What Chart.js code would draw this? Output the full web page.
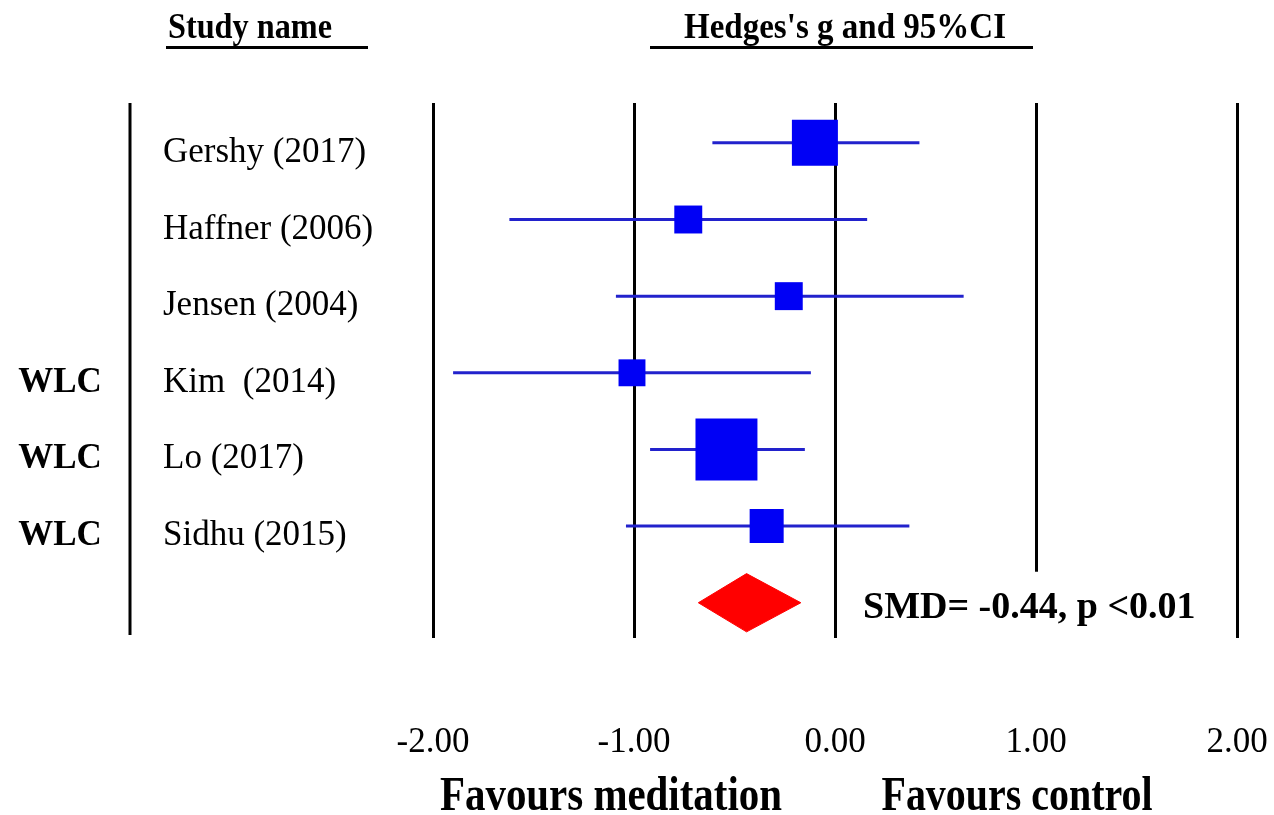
<!DOCTYPE html>
<html>
<head>
<meta charset="utf-8">
<title>Forest plot</title>
<script src="https://cdn.jsdelivr.net/npm/chart.js@4.4.1/dist/chart.umd.min.js"></script>
<style>
  body { margin: 0; background: #fff; }
  canvas { display: block; }
</style>
</head>
<body>
<canvas id="forest" width="1274" height="815"></canvas>
<script>
const studies = ["Gershy (2017)", "Haffner (2006)", "Jensen (2004)", "Kim  (2014)", "Lo (2017)", "Sidhu (2015)"];
const control = ["", "", "", "WLC", "WLC", "WLC"];
const hedgesG = [-0.10, -0.73, -0.23, -1.01, -0.54, -0.34];
const lowerCI = [-0.61, -1.62, -1.09, -1.90, -0.92, -1.04];
const upperCI = [0.42, 0.16, 0.64, -0.12, -0.15, 0.37];
const weights = [22.5, 8.3, 8.3, 7.7, 40.8, 12.3];   // relative weight, %
const pooledSMD = -0.44;
const pooledCI = [-0.68, -0.17];
const pooledP = "p <0.01";
const xTicks = [-2, -1, 0, 1, 2];

const serif = "'Liberation Serif', 'Times New Roman', serif";
const blue = "#0000f5";
const ciBlue = "#2222cc";
const summaryRow = studies.length + 1;
const diamondHalf = 0.38;

// squares first so they sit above the CI lines
const datasets = [{
  data: hedgesG.map((g, i) => ({x: g, y: i + 1})),
  pointStyle: "rect",
  pointRadius: weights.map(w => 9.7 * Math.sqrt(w) / Math.SQRT2),
  pointBackgroundColor: blue,
  pointBorderWidth: 0,
  showLine: false
}];

studies.forEach((s, i) => {
  datasets.push({
    data: [{x: lowerCI[i], y: i + 1}, {x: upperCI[i], y: i + 1}],
    showLine: true,
    borderColor: ciBlue,
    borderWidth: 3,
    pointRadius: 0
  });
});

// pooled diamond: upper half filled down to lower half
datasets.push({
  data: [{x: pooledCI[0], y: summaryRow}, {x: pooledSMD, y: summaryRow - diamondHalf}, {x: pooledCI[1], y: summaryRow}],
  showLine: true, tension: 0, borderColor: "#f00", borderWidth: 1, pointRadius: 0,
  backgroundColor: "#f00", fill: "+1"
});
datasets.push({
  data: [{x: pooledCI[0], y: summaryRow}, {x: pooledSMD, y: summaryRow + diamondHalf}, {x: pooledCI[1], y: summaryRow}],
  showLine: true, tension: 0, borderColor: "#f00", borderWidth: 1, pointRadius: 0
});

const labels = {
  id: "labels",
  afterDraw(chart) {
    const c = chart.ctx;
    const y = chart.scales.y;
    const area = chart.chartArea;
    c.save();
    c.fillStyle = "#000";
    c.strokeStyle = "#000";

    // divider between comparison and study columns
    c.lineWidth = 3;
    c.beginPath();
    c.moveTo(130, area.top);
    c.lineTo(130, area.bottom - 3);
    c.stroke();

    // column headers
    c.font = "bold 35px " + serif;
    c.textAlign = "left";
    c.textBaseline = "alphabetic";
    c.fillText("Study name", 168, 38, 164);
    c.fillText("Hedges's g and 95%CI", 684, 38, 322);
    c.fillRect(166, 46, 202, 3);
    c.fillRect(650, 46, 383, 3);

    studies.forEach((s, i) => {
      const py = y.getPixelForValue(i + 1) + 19;
      c.font = "35px " + serif;
      c.textAlign = "left";
      c.fillText(s, 163, py, 212);
      if (control[i]) {
        c.font = "bold 35px " + serif;
        c.textAlign = "center";
        c.fillText(control[i], 60, py);
      }
    });

    // pooled estimate label sits on a white box over the 1.00 line
    const sy = y.getPixelForValue(summaryRow);
    c.fillStyle = "#fff";
    c.fillRect(850, sy - 31, 360, area.bottom - sy + 33);
    c.fillStyle = "#000";
    c.font = "bold 38px " + serif;
    c.textAlign = "left";
    c.fillText("SMD= " + pooledSMD.toFixed(2) + ", " + pooledP, 863, sy + 15, 333);

    c.font = "bold 48px " + serif;
    c.textAlign = "center";
    c.fillText("Favours meditation", 611, 810, 342);
    c.fillText("Favours control", 1017, 810, 271);
    c.restore();
  }
};

new Chart(document.getElementById("forest"), {
  type: "scatter",
  data: {datasets},
  options: {
    responsive: false,
    animation: false,
    events: [],
    layout: {autoPadding: false, padding: {left: 433, right: 37, top: 103, bottom: 0}},
    plugins: {legend: {display: false}, tooltip: {enabled: false}},
    scales: {
      x: {
        type: "linear",
        min: -2,
        max: 2,
        afterBuildTicks: s => { s.ticks = xTicks.map(v => ({value: v})); },
        afterFit: s => { s.height = 177; s.paddingLeft = 0; s.paddingRight = 0; },
        grid: {color: "#000", lineWidth: 3, drawTicks: false},
        border: {display: false},
        ticks: {
          padding: 84,
          color: "#000",
          font: {family: serif, size: 35},
          maxRotation: 0,
          autoSkip: false,
          callback: v => v.toFixed(2)
        }
      },
      y: {type: "linear", display: false, reverse: true, min: 0.48, max: 7.46}
    }
  },
  plugins: [labels]
});
</script>
</body>
</html>
